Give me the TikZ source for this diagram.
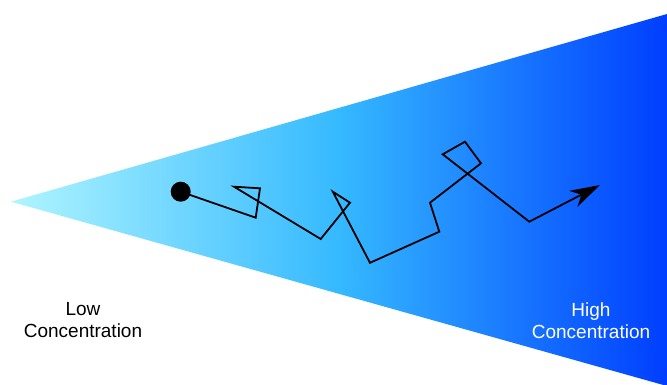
\documentclass[tikz,border=0pt]{standalone}
\usepackage{fontspec}
\setmainfont{Liberation Sans}
\usetikzlibrary{arrows.meta}
\definecolor{lowconc}{RGB}{175,245,255}
\definecolor{midconc}{RGB}{53,185,255}
\definecolor{highconc}{RGB}{0,62,255}

\begin{document}
\begin{tikzpicture}[x=1pt, y=-1pt, >=Stealth,
    walk/.style={line width=1.8pt, black},
    conclabel/.style={anchor=north, inner sep=0pt, align=center, font=\fontsize{19}{22}\selectfont}]
    \useasboundingbox (0,0) rectangle (667,385);

    % Concentration wedge with gradient
    \coordinate (Tip) at (11,201.7);
    \coordinate (TopEnd) at (667,14);
    \coordinate (BotEnd) at (667,386);
    \shade[left color=lowconc, right color=highconc, middle color=midconc] (Tip) -- (TopEnd) -- (BotEnd) -- cycle;

    % Random walk vertices
    \coordinate (W0) at (180.7,191.7);
    \coordinate (W1) at (255.7,217.7);
    \coordinate (W2) at (260,188.3);
    \coordinate (W3) at (234,186.7);
    \coordinate (W4) at (320.7,239);
    \coordinate (W5) at (350,202.7);
    \coordinate (W6) at (332.8,191.7);
    \coordinate (W7) at (370,262.8);
    \coordinate (W8) at (439.3,231.7);
    \coordinate (W9) at (430,202.7);
    \coordinate (W10) at (481,163.3);
    \coordinate (W11) at (465,141.7);
    \coordinate (W12) at (442.7,154.3);
    \coordinate (W13) at (529.3,221.7);
    \coordinate (W14) at (600,185);

    % Path of the particle
    \draw[walk, -{Stealth[length=30pt, width=18pt, inset=9pt]}] (W0) -- (W1) -- (W2) -- (W3) -- (W4) -- (W5) -- (W6) -- (W7)
        -- (W8) -- (W9) -- (W10) -- (W11) -- (W12) -- (W13) -- (W14);

    % Starting particle
    \fill[black] (W0) circle (10pt);

    % Labels
    \node[conclabel, text=black] (low) at (83,302.4) {Low\\Concentration};
    \node[conclabel, text=white] (high) at (591,302.4) {High\\Concentration};
\end{tikzpicture}
\end{document}
